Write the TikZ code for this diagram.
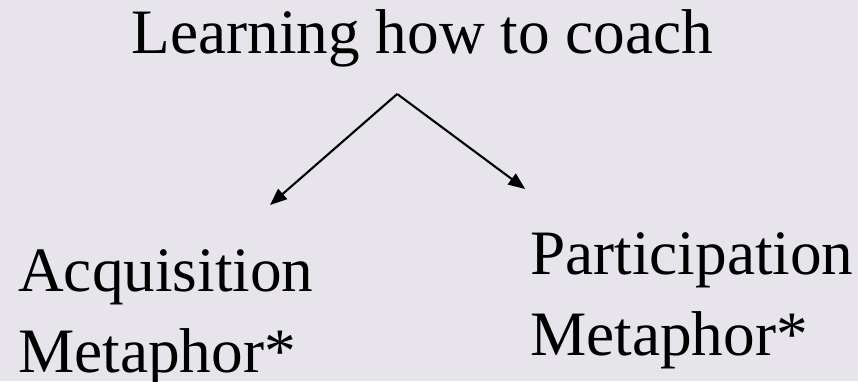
\documentclass[tikz,border=0pt]{standalone}
\usepackage{fontspec}
\setmainfont{Liberation Serif}
\usetikzlibrary{arrows.meta}
\definecolor{slidebg}{RGB}{231,229,235}

\begin{document}
\begin{tikzpicture}[
  label text/.style={inner sep=0pt, align=left, font=\fontsize{45}{57}\selectfont},
  branch/.style={line width=1.5pt, -{Triangle[length=12pt,width=9.5pt]}}
]

% Background
\fill[slidebg] (0,0) rectangle (21.45,-9.525);
\useasboundingbox (0,0) rectangle (21.45,-9.525);

% Heading
\node[inner sep=0pt, anchor=base, font=\fontsize{45}{54}\selectfont] (title) at (10.56,-1.325) {Learning how to coach};

% Two metaphors
\node[label text, anchor=base west] (acq) at (0.45,-9.3) {Acquisition\\Metaphor*};
\node[label text, anchor=base west] (part) at (13.25,-8.875) {Participation\\Metaphor*};

% Fork point and arrow ends
\coordinate (fork) at (9.93,-2.35);
\coordinate (acqend) at (6.75,-5.125);
\coordinate (partend) at (13.13,-4.725);

% Arrows
\draw[branch] (fork) -- (acqend);
\draw[branch] (fork) -- (partend);

\end{tikzpicture}
\end{document}
